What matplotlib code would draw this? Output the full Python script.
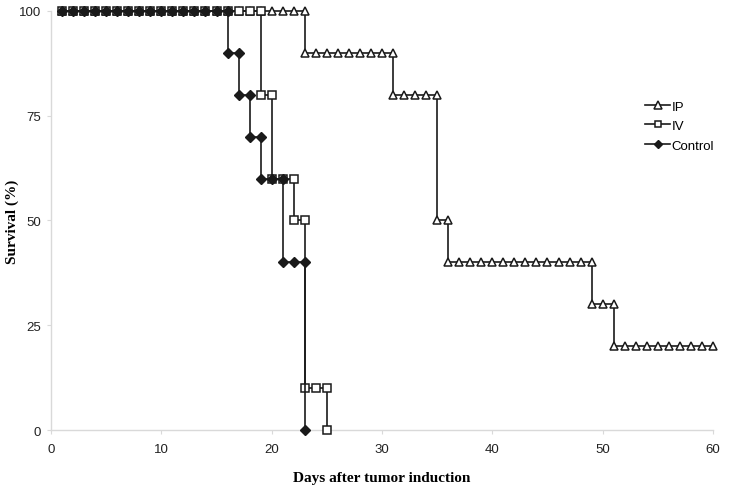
import matplotlib.pyplot as plt

# survival data (days, % alive) - two points on each drop day
ip_days = list(range(1, 24)) + list(range(23, 32)) + list(range(31, 36)) + [35, 36] + list(range(36, 50)) + [49, 50, 51] + list(range(51, 61))
ip_surv = [100] * 23 + [90] * 9 + [80] * 5 + [50] * 2 + [40] * 14 + [30] * 3 + [20] * 10

iv_days = list(range(1, 20)) + [19, 20] + [20, 21, 22] + [22, 23] + [23, 24, 25] + [25]
iv_surv = [100] * 19 + [80] * 2 + [60] * 3 + [50] * 2 + [10] * 3 + [0]

ctrl_days = list(range(1, 17)) + [16, 17] + [17, 18] + [18, 19] + [19, 20, 21] + [21, 22, 23] + [23]
ctrl_surv = [100] * 16 + [90] * 2 + [80] * 2 + [70] * 2 + [60] * 3 + [40] * 3 + [0]

xticks = [0, 10, 20, 30, 40, 50, 60]
yticks = [0, 25, 50, 75, 100]

fig = plt.figure(figsize=(7.32, 4.89), dpi=100)
ax = fig.add_axes([0.0697, 0.1186, 0.9043, 0.8569])

lc = '#1a1a1a'
ax.plot(ip_days, ip_surv, color=lc, lw=1.2, marker='^', ms=6.3, mfc='white', mec=lc, mew=1.1,
        label='IP', clip_on=False, zorder=3)
ax.plot(iv_days, iv_surv, color=lc, lw=1.2, marker='s', ms=5.6, mfc='white', mec=lc, mew=1.1,
        label='IV', clip_on=False, zorder=4)
ax.plot(ctrl_days, ctrl_surv, color=lc, lw=1.2, marker='D', ms=4.8, mfc=lc, mec=lc,
        label='Control', clip_on=False, zorder=5)

ax.set_xlim(0, 60)
ax.set_ylim(0, 100)
ax.set_xticks(xticks)
ax.set_yticks(yticks)

for s in ['top', 'right']:
    ax.spines[s].set_visible(False)
for s in ['left', 'bottom']:
    ax.spines[s].set_color('#d9d9d9')
    ax.spines[s].set_linewidth(1.0)
ax.tick_params(colors='#d9d9d9', length=3, width=0.8, labelcolor='#222222')
for lab in ax.get_xticklabels() + ax.get_yticklabels():
    lab.set_family(['Liberation Sans Narrow', 'Liberation Sans', 'DejaVu Sans'])
    lab.set_fontsize(9.5)
ax.tick_params(axis='x', pad=6)
ax.tick_params(axis='y', pad=4)

ax.set_xlabel('Days after tumor induction', family='Liberation Serif', fontweight='bold',
              fontsize=11, labelpad=12)
ax.set_ylabel('Survival (%)', family='Liberation Serif', fontweight='bold', fontsize=11)
ax.yaxis.set_label_coords(-0.048, 0.5)

leg = ax.legend(loc='upper left', bbox_to_anchor=(0.88, 0.815), frameon=False,
                handlelength=1.9, handletextpad=0.1, labelspacing=0.55, markerscale=0.85,
                prop={'family': ['Liberation Sans Narrow', 'Liberation Sans'], 'size': 9.5})

fig.savefig('out.png', dpi=100)
